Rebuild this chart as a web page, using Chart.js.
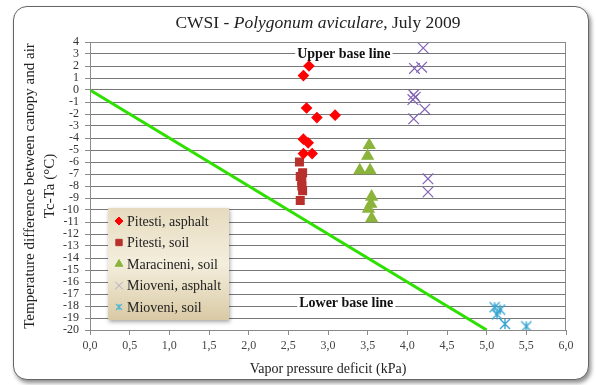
<!DOCTYPE html>
<html>
<head>
<meta charset="utf-8">
<script src="https://cdn.jsdelivr.net/npm/chart.js@4.4.1/dist/chart.umd.min.js"></script>
<style>
body { margin: 0; background: #fff; }
#frame { position: absolute; left: 13px; top: 6px; width: 574px; height: 372px; border: 1.5px solid #666; border-radius: 14px; box-shadow: 2px 3px 4px rgba(0,0,0,0.45); background: #fff; }
#wrap { position: absolute; left: 0; top: 0; width: 596px; height: 385px; }
</style>
</head>
<body>
<div id="frame"></div>
<div id="wrap"><canvas id="chart"></canvas></div>
<script>
// values: [vapor pressure deficit (kPa), Tc-Ta (°C)]
const pitestiAsphalt = [[2.76, 2.0], [2.69, 1.2], [2.73, -1.5], [2.86, -2.3], [3.09, -2.1], [2.69, -4.1], [2.75, -4.4], [2.69, -5.3], [2.8, -5.3]];
const pitestiSoil = [[2.64, -6.0], [2.68, -6.9], [2.65, -7.2], [2.67, -7.6], [2.67, -8.0], [2.68, -8.4], [2.65, -9.2]];
const maracineniSoil = [[3.52, -4.6], [3.5, -5.5], [3.4, -6.7], [3.53, -6.7], [3.55, -8.9], [3.54, -9.5], [3.51, -9.9], [3.55, -10.7]];
const mioveniAsphalt = [[4.2, 3.5], [4.09, 1.8], [4.18, 1.9], [4.08, -0.4], [4.1, -0.6], [4.07, -0.8], [4.22, -1.6], [4.08, -2.4], [4.26, -7.4], [4.26, -8.5]];
const mioveniSoil = [[5.1, -18.1], [5.17, -18.3], [5.13, -18.7], [5.23, -19.5], [5.5, -19.7]];
const lowerBaseLine = [[0, 0], [5, -20]];

const seriesNames = ["Pitesti, asphalt", "Pitesti, soil", "Maracineni, soil", "Mioveni, asphalt", "Mioveni, soil"];
const titleParts = [["CWSI - ", "normal"], ["Polygonum aviculare", "italic"], [", July 2009", "normal"]];
const yTitle = ["Temperature difference between canopy and air", "Tc-Ta (°C)"];
const xTitle = "Vapor pressure deficit (kPa)";
const upperLabel = { text: "Upper base line", x: 3.2, y: 3.0 };
const lowerLabel = { text: "Lower base line", x: 3.23, y: -17.75 };

const serif = '"Liberation Serif", "Times New Roman", serif';

function toPoints(arr) {
    return arr.map(p => ({ x: p[0], y: p[1] }));
}

// Excel-like star marker: an X with a vertical stroke
function makeStar(size, color, lw) {
    const c = document.createElement("canvas");
    c.width = size;
    c.height = size;
    const g = c.getContext("2d");
    const m = 1, e = size - 1;
    g.strokeStyle = color;
    g.lineWidth = lw;
    g.beginPath();
    g.moveTo(m, m); g.lineTo(e, e);
    g.moveTo(e, m); g.lineTo(m, e);
    g.moveTo(size / 2, m); g.lineTo(size / 2, e);
    g.stroke();
    return c;
}

const styles = [
    { pointStyle: "rectRot", color: "#ff0000", radius: 5, legendRadius: 4 },
    { pointStyle: "rect", color: "#b8302c", radius: 5.5, legendRadius: 4.5 },
    { pointStyle: "triangle", color: "#8cb43c", radius: 6.5, legendRadius: 4.5 },
    { pointStyle: "crossRot", color: "#8264b4", radius: 7.5, legendRadius: 5.5, legendColor: "#b4a6cc" },
    { pointStyle: makeStar(12, "#35a4d0", 1.4), color: "#35a4d0", radius: 6.5, legendRadius: 5, legendStyle: makeStar(8, "#50b4d6", 1.1) }
];
const seriesData = [pitestiAsphalt, pitestiSoil, maracineniSoil, mioveniAsphalt, mioveniSoil];

const datasets = seriesData.map((d, i) => ({
    type: "scatter",
    label: seriesNames[i],
    data: toPoints(d),
    pointStyle: styles[i].pointStyle,
    pointRadius: styles[i].radius,
    pointHoverRadius: styles[i].radius,
    backgroundColor: styles[i].color,
    borderColor: styles[i].color,
    pointBorderWidth: 1.2
}));
datasets.unshift({
    type: "line",
    label: "base",
    data: toPoints(lowerBaseLine),
    borderColor: "#2ee000",
    borderWidth: 3,
    pointRadius: 0,
    fill: false
});

const extras = {
    id: "extras",
    beforeDatasetsDraw(chart) {
        const ctx = chart.ctx;
        const xs = chart.scales.x, ys = chart.scales.y;
        ctx.save();
        ctx.font = "bold 14px " + serif;
        ctx.textAlign = "center";
        ctx.textBaseline = "middle";
        [upperLabel, lowerLabel].forEach(l => {
            const px = xs.getPixelForValue(l.x), py = ys.getPixelForValue(l.y);
            const w = ctx.measureText(l.text).width;
            ctx.fillStyle = "#fff";
            ctx.fillRect(px - w / 2 - 2, py - 8, w + 4, 16);
            ctx.fillStyle = "#111";
            ctx.fillText(l.text, px, py);
        });
        ctx.restore();
    },
    afterDraw(chart) {
        const ctx = chart.ctx;
        const area = chart.chartArea;
        ctx.save();

        // plot border
        ctx.strokeStyle = "#8a8a8a";
        ctx.lineWidth = 1;
        ctx.strokeRect(area.left + 0.5, area.top + 0.5, area.right - area.left - 1, area.bottom - area.top);

        // title with italic species name
        let total = 0;
        titleParts.forEach(p => {
            ctx.font = p[1] + " 17.5px " + serif;
            total += ctx.measureText(p[0]).width;
        });
        let tx = (area.left + area.right) / 2 - 10 - total / 2;
        ctx.fillStyle = "#222";
        ctx.textBaseline = "middle";
        ctx.textAlign = "left";
        titleParts.forEach(p => {
            ctx.font = p[1] + " 17.5px " + serif;
            ctx.fillText(p[0], tx, 23);
            tx += ctx.measureText(p[0]).width;
        });

        // legend box inside the plot
        const lx = area.left + 18, ly = area.top + 166, lw = 121, lh = 112;
        ctx.shadowColor = "rgba(0,0,0,0.35)";
        ctx.shadowBlur = 4;
        ctx.shadowOffsetX = 1;
        ctx.shadowOffsetY = 2;
        const g = ctx.createLinearGradient(0, ly, 0, ly + lh);
        g.addColorStop(0, "#e6dbbf");
        g.addColorStop(0.5, "#f4eedd");
        g.addColorStop(1, "#d9caa4");
        ctx.fillStyle = g;
        ctx.fillRect(lx, ly, lw, lh);
        ctx.shadowColor = "transparent";
        ctx.font = "14px " + serif;
        seriesNames.forEach((name, i) => {
            const y = ly + 13 + i * 21.5;
            const s = styles[i];
            const col = s.legendColor || s.color;
            ctx.fillStyle = col;
            ctx.strokeStyle = col;
            ctx.lineWidth = 1;
            Chart.helpers.drawPoint(ctx, { pointStyle: s.legendStyle || s.pointStyle, radius: s.legendRadius, rotation: 0, borderWidth: 1 }, lx + 11, y);
            ctx.fillStyle = "#222";
            ctx.fillText(name, lx + 19, y + 1);
        });
        ctx.restore();
    }
};

new Chart(document.getElementById("chart"), {
    data: { datasets: datasets },
    options: {
        responsive: true,
        maintainAspectRatio: false,
        animation: false,
        layout: { padding: { left: 0, right: 30, top: 42, bottom: 0 } },
        plugins: {
            legend: { display: false },
            tooltip: { enabled: false }
        },
        scales: {
            x: {
                type: "linear",
                min: 0,
                max: 6,
                afterFit: s => { s.height = 55; },
                ticks: {
                    stepSize: 0.5,
                    padding: 4,
                    color: "#444",
                    font: { family: serif, size: 12 },
                    callback: v => v.toFixed(1).replace(".", ",")
                },
                grid: { drawOnChartArea: false, tickLength: 5, color: "#8a8a8a" },
                border: { color: "#8a8a8a" },
                title: {
                    display: true,
                    text: xTitle,
                    color: "#222",
                    font: { family: serif, size: 14, lineHeight: 1.2 },
                    padding: { top: 0, bottom: 7 }
                }
            },
            y: {
                type: "linear",
                min: -20,
                max: 4,
                afterFit: s => { s.width = 90; },
                ticks: {
                    stepSize: 1,
                    autoSkip: false,
                    padding: 6,
                    color: "#333",
                    font: { family: serif, size: 12 }
                },
                grid: { color: "#777", borderDash: [5, 3], tickLength: 5, tickColor: "#8a8a8a", tickBorderDash: [] },
                border: { color: "#8a8a8a" },
                title: {
                    display: true,
                    text: yTitle,
                    color: "#222",
                    font: { family: serif, size: 15, lineHeight: 1.33 },
                    padding: { top: 20, bottom: 0 }
                }
            }
        }
    },
    plugins: [extras]
});
</script>
</body>
</html>
